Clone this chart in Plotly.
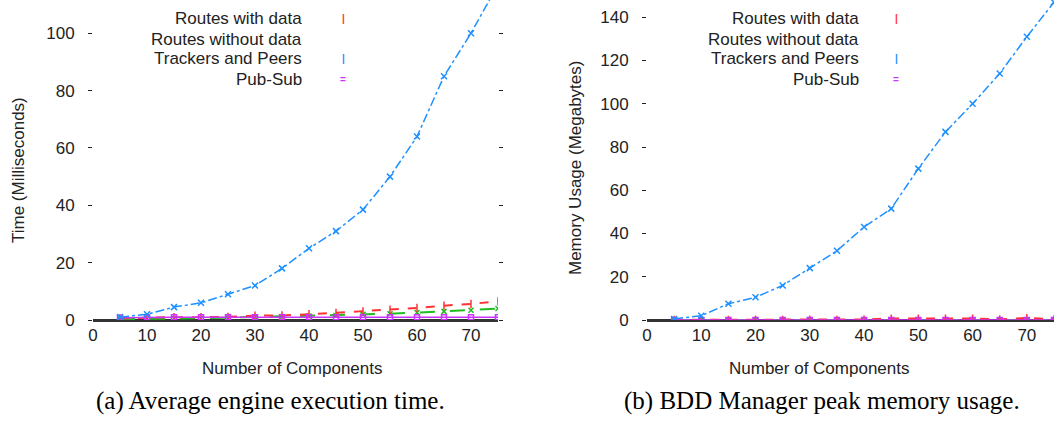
import plotly.graph_objects as go

# ---------------- data ----------------
components = [5, 10, 15, 20, 25, 30, 35, 40, 45, 50, 55, 60, 65, 70, 75]

# (a) Average engine execution time (ms)
time_routes_with = [0.5, 0.8, 1.0, 1.0, 1.1, 1.5, 1.6, 2.0, 2.5, 3.0, 3.6, 4.2, 5.0, 5.6, 6.5]
time_routes_without = [0.3, 0.5, 0.5, 0.6, 0.8, 1.0, 1.2, 1.4, 1.6, 2.0, 2.2, 2.6, 3.0, 3.4, 4.0]
time_trackers = [1.0, 2.0, 4.5, 6.0, 9.0, 12.0, 18.0, 25.0, 31.0, 38.5, 50.0, 64.0, 85.0, 100.0, 117.0]
time_pubsub = [0.8, 1.0, 1.0, 1.0, 1.0, 1.0, 1.0, 1.0, 1.0, 1.0, 1.0, 1.0, 1.0, 1.0, 1.0]

# (b) BDD Manager peak memory usage (MB)
mem_routes_with = [0.0, 0.0, 0.0, 0.1, 0.0, 0.1, 0.0, 0.1, 0.6, 0.6, 0.6, 0.6, 0.2, 0.8, 0.2]
mem_routes_without = [0.0, 0.0, 0.0, 0.0, 0.0, 0.0, 0.0, 0.0, 0.0, 0.0, 0.0, 0.0, 0.0, 0.0, 0.0]
mem_trackers = [0.5, 2.0, 7.5, 10.5, 16.0, 24.0, 32.0, 43.0, 51.5, 70.0, 87.0, 100.0, 114.0, 131.0, 147.0]
mem_pubsub = [0.0, 0.0, 0.0, 0.0, 0.0, 0.0, 0.0, 0.0, 0.0, 0.0, 0.0, 0.0, 0.0, 0.0, 0.0]

series_names = ["Routes with data", "Routes without data", "Trackers and Peers", "Pub-Sub"]
x_ticks = [0, 10, 20, 30, 40, 50, 60, 70]
time_ticks = [0, 20, 40, 60, 80, 100]
mem_ticks = [0, 20, 40, 60, 80, 100, 120, 140]

captions = ["(a) Average engine execution time.", "(b) BDD Manager peak memory usage."]
y_titles = ["Time (Milliseconds)", "Memory Usage (Megabytes)"]
x_title = "Number of Components"

# ---------------- style ----------------
RED = "#ff3333"
GREEN = "#22bb22"
BLUE = "#1e90ff"
MAGENTA = "#cc33ff"
TXT = "#222222"
SANS = "Liberation Sans, Arial, sans-serif"
SERIF = "Liberation Serif, Times New Roman, serif"
FS = 17

fig = go.Figure()

def add_panel(xa, ya, red, green, blue, mag, red_width):
    fig.add_trace(go.Scatter(x=components, y=green, mode="lines+markers", xaxis=xa, yaxis=ya,
                             line=dict(color=GREEN, width=2, dash="longdash"),
                             marker=dict(symbol="x-thin", size=5, line=dict(color=GREEN, width=1.5)),
                             showlegend=False, name=series_names[1]))
    fig.add_trace(go.Scatter(x=components, y=red, mode="lines+markers", xaxis=xa, yaxis=ya,
                             line=dict(color=RED, width=red_width, dash="dash"),
                             marker=dict(symbol="line-ns", size=6, line=dict(color=RED, width=1.5)),
                             showlegend=False, name=series_names[0]))
    fig.add_trace(go.Scatter(x=components, y=mag, mode="lines+markers", xaxis=xa, yaxis=ya,
                             line=dict(color=MAGENTA, width=1.5),
                             marker=dict(symbol="square-open", size=5, line=dict(color=MAGENTA, width=1.5)),
                             showlegend=False, name=series_names[3]))
    fig.add_trace(go.Scatter(x=components, y=blue, mode="lines+markers", xaxis=xa, yaxis=ya,
                             line=dict(color=BLUE, width=1.5, dash="dashdot"),
                             marker=dict(symbol="x-thin", size=6, line=dict(color=BLUE, width=1.5)),
                             showlegend=False, name=series_names[2]))

add_panel("x", "y", time_routes_with, time_routes_without, time_trackers, time_pubsub, 2)
add_panel("x2", "y2", mem_routes_with, mem_routes_without, mem_trackers, mem_pubsub, 2.5)

xcommon = dict(range=[0, 75], tickvals=x_ticks, showgrid=False, zeroline=False, showline=False,
               ticks="", tickfont=dict(family=SANS, size=FS, color=TXT), ticklabelstandoff=3,
               automargin=False)
ycommon = dict(showgrid=False, showline=False, ticks="outside", ticklen=4, tickwidth=1,
               tickcolor="#222", mirror="ticks", zeroline=True, zerolinecolor="#333",
               zerolinewidth=2.5, tickfont=dict(family=SANS, size=FS, color=TXT),
               ticklabelstandoff=10, automargin=False)

fig.update_layout(
    width=1054, height=425,
    margin=dict(l=0, r=0, t=0, b=0, autoexpand=False),
    paper_bgcolor="white", plot_bgcolor="white",
    xaxis=dict(domain=[93 / 1054, 498 / 1054], anchor="y", **xcommon),
    yaxis=dict(domain=[105 / 425, 1.0], anchor="x", range=[0, 111.6], tickvals=time_ticks, **ycommon),
    xaxis2=dict(domain=[647 / 1054, 1.0], anchor="y2", **xcommon),
    yaxis2=dict(domain=[105 / 425, 1.0], anchor="x2", range=[0, 148], tickvals=mem_ticks, **ycommon),
)

ann = []
# axis titles
for cx, cy, t in [(18, 170, y_titles[0]), (575, 168, y_titles[1])]:
    ann.append(dict(x=cx / 1054, y=1 - cy / 425, xref="paper", yref="paper", text=t, textangle=-90,
                    xanchor="center", yanchor="middle",
                    showarrow=False, font=dict(family=SANS, size=FS, color=TXT)))
for cx in [292, 819]:
    ann.append(dict(x=cx / 1054, y=1 - 368 / 425, xref="paper", yref="paper", text=x_title,
                    xanchor="center", yanchor="middle",
                    showarrow=False, font=dict(family=SANS, size=FS, color=TXT)))
# captions
for cx, t in [(270, captions[0]), (822, captions[1])]:
    ann.append(dict(x=cx / 1054, y=1 - 401 / 425, xref="paper", yref="paper", text=t,
                    xanchor="center", yanchor="middle",
                    showarrow=False, font=dict(family=SERIF, size=25, color="#000")))
# legends (text right-aligned, tiny symbol to the right)
legend_syms = [("<b>|</b>", RED), ("", GREEN), ("<b>|</b>", BLUE), ("<b>=</b>", MAGENTA)]
rows = [19, 39, 59, 79]
for right_x, sym_x in [(304, 343), (861, 896)]:
    for name, (sym, col), ry in zip(series_names, legend_syms, rows):
        ann.append(dict(x=right_x / 1054, y=1 - ry / 425, xref="paper", yref="paper", text=name,
                        xanchor="right", yanchor="middle",
                        showarrow=False, font=dict(family=SANS, size=FS, color=TXT)))
        if sym:
            ann.append(dict(x=sym_x / 1054, y=1 - ry / 425, xref="paper", yref="paper", text=sym,
                            xanchor="center", yanchor="middle",
                            showarrow=False, font=dict(family=SANS, size=10, color=col)))
fig.update_layout(annotations=ann)

fig.write_html("out.html", config={"displayModeBar": False},
               post_script="document.body.style.margin='0';document.body.style.padding='0';")
